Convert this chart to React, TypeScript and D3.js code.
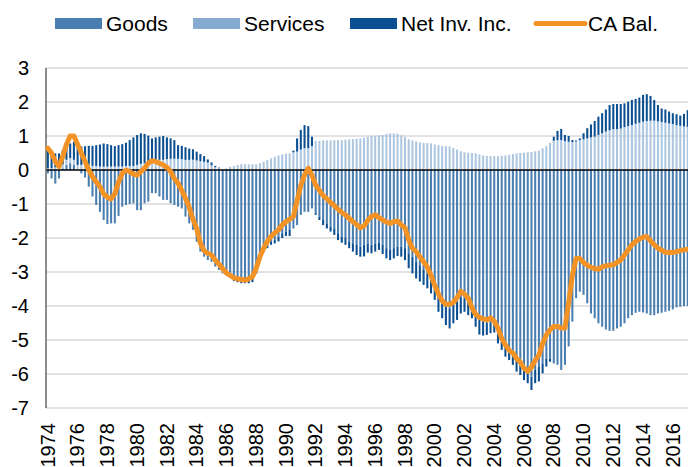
import * as d3 from "d3";
import React, { useEffect, useRef } from "react";

// quarterly values, % of GDP, 1974Q1 .. 2017Q1
const goods = [
  -0.1, -0.25, -0.4, -0.25, 0.05, 0.15, 0.2, 0.15, 0.0, -0.1, -0.22, -0.49,
  -0.78, -1.03, -1.23, -1.47, -1.59, -1.57, -1.57, -1.35, -1.08, -1.03, -1.0, -0.98,
  -1.18, -1.18, -0.98, -0.93, -0.68, -0.68, -0.78, -0.88, -0.88, -0.98, -1.03, -1.08,
  -1.13, -1.37, -1.57, -1.76, -2.11, -2.4, -2.55, -2.65, -2.7, -2.84, -2.94, -3.04,
  -3.09, -3.14, -3.24, -3.25, -3.23, -3.23, -3.23, -3.2, -2.95, -2.5, -2.35, -2.2,
  -2.1, -2.06, -1.96, -1.86, -1.81, -1.76, -1.72, -1.62, -1.32, -1.23, -1.23, -1.13,
  -1.27, -1.37, -1.47, -1.57, -1.67, -1.72, -1.86, -1.96, -2.0, -2.1, -2.16, -2.2,
  -2.25, -2.2, -2.16, -2.2, -2.16, -2.14, -2.2, -2.3, -2.35, -2.3, -2.25, -2.25,
  -2.3, -2.45, -2.55, -2.7, -2.8, -2.92, -3.04, -3.19, -3.33, -3.63, -3.82, -3.97,
  -4.07, -3.97, -3.87, -3.73, -3.77, -3.87, -3.97, -4.22, -4.35, -4.45, -4.5, -4.48,
  -4.5, -4.75, -5.0, -5.19, -5.34, -5.44, -5.59, -5.69, -5.78, -5.93, -6.08, -5.88,
  -5.78, -5.69, -5.54, -5.54, -5.69, -5.73, -5.88, -5.73, -5.19, -4.46, -3.77, -3.58,
  -3.67, -3.92, -4.22, -4.36, -4.51, -4.61, -4.69, -4.73, -4.73, -4.66, -4.61, -4.51,
  -4.36, -4.27, -4.2, -4.17, -4.19, -4.22, -4.27, -4.27, -4.22, -4.2, -4.17, -4.14,
  -4.1, -4.04, -4.02, -4.0, -4.0,
];

const services = [
  0.05, 0.05, 0.08, 0.1, 0.12, 0.15, 0.15, 0.15, 0.15, 0.15, 0.15, 0.15,
  0.12, 0.12, 0.1, 0.1, 0.1, 0.1, 0.1, 0.1, 0.1, 0.12, 0.12, 0.12,
  0.15, 0.18, 0.2, 0.22, 0.25, 0.28, 0.3, 0.3, 0.32, 0.33, 0.33, 0.33,
  0.32, 0.3, 0.3, 0.3, 0.28, 0.26, 0.24, 0.22, 0.14, 0.08, 0.05, 0.02,
  0.05, 0.1, 0.12, 0.15, 0.17, 0.17, 0.17, 0.17, 0.17, 0.2, 0.24, 0.29,
  0.34, 0.39, 0.43, 0.46, 0.48, 0.49, 0.52, 0.54, 0.6, 0.64, 0.64, 0.7,
  0.86, 0.86, 0.87, 0.87, 0.87, 0.88, 0.88, 0.88, 0.89, 0.9, 0.91, 0.92,
  0.93, 0.95, 0.98, 1.0, 1.01, 1.02, 1.03, 1.06, 1.08, 1.08, 1.07, 1.02,
  0.97, 0.91, 0.87, 0.84, 0.81, 0.8, 0.79, 0.78, 0.75, 0.73, 0.71, 0.7,
  0.69, 0.65, 0.6, 0.55, 0.52, 0.51, 0.5, 0.49, 0.46, 0.43, 0.41, 0.41,
  0.41, 0.41, 0.42, 0.43, 0.45, 0.47, 0.49, 0.5, 0.51, 0.52, 0.53, 0.55,
  0.57, 0.64, 0.7, 0.8, 0.86, 0.88, 0.88, 0.85, 0.83, 0.82, 0.84, 0.88,
  0.9, 0.93, 0.96, 0.98, 1.03, 1.08, 1.13, 1.17, 1.2, 1.2, 1.22, 1.26,
  1.29, 1.32, 1.36, 1.39, 1.42, 1.44, 1.45, 1.45, 1.43, 1.41, 1.39, 1.37,
  1.35, 1.32, 1.3, 1.28, 1.27,
];

const netInvInc = [
  0.59, 0.49, 0.41, 0.39, 0.42, 0.37, 0.43, 0.53, 0.55, 0.54, 0.55, 0.56,
  0.59, 0.61, 0.65, 0.68, 0.66, 0.63, 0.6, 0.63, 0.66, 0.68, 0.76, 0.84,
  0.88, 0.9, 0.86, 0.79, 0.68, 0.68, 0.68, 0.7, 0.64, 0.6, 0.55, 0.4,
  0.39, 0.37, 0.33, 0.31, 0.26, 0.21, 0.17, 0.09, 0.08, 0.04, 0.02, 0.0,
  0.0, 0.0, -0.03, -0.05, -0.1, -0.1, -0.1, -0.1, -0.1, -0.08, -0.05, -0.1,
  -0.1, -0.1, -0.14, -0.14, -0.13, -0.18, 0.05, 0.39, 0.58, 0.68, 0.65, 0.28,
  -0.05, -0.1, -0.15, -0.15, -0.14, -0.19, -0.2, -0.18, -0.2, -0.2, -0.24, -0.3,
  -0.3, -0.34, -0.27, -0.25, -0.24, -0.21, -0.27, -0.3, -0.3, -0.3, -0.28, -0.3,
  -0.35, -0.44, -0.49, -0.49, -0.48, -0.46, -0.44, -0.44, -0.49, -0.54, -0.54, -0.59,
  -0.59, -0.54, -0.54, -0.49, -0.4, -0.4, -0.39, -0.39, -0.49, -0.42, -0.35, -0.32,
  -0.28, -0.35, -0.29, -0.3, -0.25, -0.29, -0.34, -0.34, -0.4, -0.34, -0.39, -0.39,
  -0.44, -0.29, -0.24, -0.1, 0.12, 0.27, 0.33, 0.18, 0.17, 0.06, 0.03, 0.05,
  0.18, 0.3, 0.38, 0.46, 0.54, 0.59, 0.65, 0.74, 0.74, 0.74, 0.72, 0.7,
  0.72, 0.74, 0.73, 0.74, 0.79, 0.79, 0.73, 0.61, 0.48, 0.4, 0.39, 0.35,
  0.32, 0.32, 0.3, 0.37, 0.49,
];

const caBal = [
  0.64, 0.5, 0.25, 0.1, 0.4, 0.75, 1.0, 1.0, 0.75, 0.5, 0.25, 0.0,
  -0.2, -0.35, -0.49, -0.7, -0.8, -0.85, -0.7, -0.35, -0.1, 0.0, -0.05, -0.12,
  -0.15, -0.05, 0.06, 0.2, 0.27, 0.25, 0.2, 0.15, 0.08, -0.05, -0.25, -0.39,
  -0.6, -0.83, -1.1, -1.45, -1.72, -2.15, -2.38, -2.45, -2.5, -2.65, -2.77, -2.9,
  -3.03, -3.1, -3.17, -3.2, -3.22, -3.24, -3.2, -3.14, -2.9, -2.55, -2.3, -2.1,
  -1.95, -1.85, -1.76, -1.62, -1.52, -1.45, -1.37, -0.9, -0.45, -0.15, 0.05, -0.15,
  -0.45, -0.6, -0.75, -0.85, -0.95, -1.05, -1.15, -1.25, -1.32, -1.42, -1.52, -1.6,
  -1.7, -1.65, -1.48, -1.37, -1.32, -1.4, -1.47, -1.53, -1.57, -1.52, -1.5, -1.62,
  -1.7, -2.05, -2.3, -2.4, -2.55, -2.7, -2.85, -3.1, -3.4, -3.65, -3.85, -3.95,
  -3.95, -3.9, -3.75, -3.57, -3.65, -3.77, -4.05, -4.25, -4.33, -4.38, -4.41, -4.35,
  -4.45, -4.65, -4.95, -5.15, -5.3, -5.38, -5.55, -5.65, -5.83, -5.92, -5.8, -5.6,
  -5.45, -5.1, -4.85, -4.7, -4.6, -4.6, -4.65, -4.65, -3.9, -3.1, -2.6, -2.6,
  -2.72, -2.8, -2.86, -2.9, -2.92, -2.85, -2.82, -2.8, -2.79, -2.72, -2.65, -2.5,
  -2.35, -2.2, -2.1, -2.03, -1.98, -1.96, -2.08, -2.2, -2.3, -2.36, -2.42, -2.43,
  -2.43, -2.4, -2.37, -2.35, -2.33,
];

const yearLabels = [
  "1974", "1976", "1978", "1980", "1982", "1984", "1986", "1988", "1990", "1992", "1994",
  "1996", "1998", "2000", "2002", "2004", "2006", "2008", "2010", "2012", "2014", "2016",
];
const yTicks = [3, 2, 1, 0, -1, -2, -3, -4, -5, -6, -7];
const seriesNames = ["Goods", "Services", "Net Inv. Inc.", "CA Bal."];

const quarters = goods.map((_, i) => `${1974 + Math.floor(i / 4)}Q${(i % 4) + 1}`);

const colors = {
  goods: "#4a7eb0",
  services: "#adc7e1",
  servicesKey: "#86aad0",
  income: "#0b4f91",
  ca: "#f39325",
};

const font = "'Liberation Sans', Arial, sans-serif";

const App = () => {
  const ref = useRef(null);

  useEffect(() => {
    drawChart();
  }, []);

  const drawChart = () => {
    const width = 688;
    const height = 467;
    const left = 46;
    const step = 3.72;

    d3.select(ref.current).selectAll("*").remove();

    const svg = d3
      .select(ref.current)
      .append("svg")
      .attr("width", width)
      .attr("height", height)
      .style("position", "absolute")
      .style("left", 0)
      .style("top", 0)
      .style("background", "#fff")
      .style("font-family", font);

    const x = d3
      .scaleBand()
      .domain(quarters)
      .range([left, left + step * quarters.length])
      .paddingInner(0.45)
      .paddingOuter(0.225);

    const y = d3.scaleLinear().domain([-7, 3]).range([408, 68]);

    // gridlines
    svg
      .selectAll("line.grid")
      .data(yTicks.filter((t) => t !== 0))
      .enter()
      .append("line")
      .attr("x1", left)
      .attr("x2", width)
      .attr("y1", (d) => y(d))
      .attr("y2", (d) => y(d))
      .attr("stroke", "#d9d9d9")
      .attr("stroke-width", 1.5);

    // stacked bars
    const rows = quarters.map((q, i) => ({
      q,
      goods: goods[i],
      services: services[i],
      income: netInvInc[i],
    }));
    const stack = d3
      .stack()
      .keys(["goods", "services", "income"])
      .offset(d3.stackOffsetDiverging);
    const layers = stack(rows);
    const fills = [colors.goods, colors.services, colors.income];

    svg
      .selectAll("g.layer")
      .data(layers)
      .enter()
      .append("g")
      .attr("fill", (_, i) => fills[i])
      .selectAll("rect")
      .data((d) => d)
      .enter()
      .append("rect")
      .attr("x", (d) => x(d.data.q))
      .attr("width", x.bandwidth())
      .attr("y", (d) => y(Math.max(d[0], d[1])))
      .attr("height", (d) => Math.abs(y(d[0]) - y(d[1])));

    // zero line
    svg
      .append("line")
      .attr("x1", left)
      .attr("x2", width)
      .attr("y1", y(0))
      .attr("y2", y(0))
      .attr("stroke", "#000")
      .attr("stroke-width", 1.5);

    // left axis line
    svg
      .append("line")
      .attr("x1", left)
      .attr("x2", left)
      .attr("y1", y(3))
      .attr("y2", y(-7))
      .attr("stroke", "#666")
      .attr("stroke-width", 1.5);

    // CA balance line
    const line = d3
      .line()
      .x((_, i) => x(quarters[i]) + x.bandwidth() / 2)
      .y((d) => y(d));

    svg
      .append("path")
      .datum(caBal)
      .attr("d", line)
      .attr("fill", "none")
      .attr("stroke", colors.ca)
      .attr("stroke-width", 5)
      .attr("stroke-linejoin", "round")
      .attr("stroke-linecap", "round");

    // y tick labels
    svg
      .selectAll("text.ytick")
      .data(yTicks)
      .enter()
      .append("text")
      .attr("x", 29)
      .attr("y", (d) => y(d))
      .attr("dy", "0.36em")
      .attr("text-anchor", "end")
      .attr("font-size", 20)
      .attr("fill", "#000")
      .text((d) => d);

    // x tick labels (rotated)
    svg
      .selectAll("text.xtick")
      .data(yearLabels)
      .enter()
      .append("text")
      .attr("transform", (d) => {
        const cx = x(`${d}Q1`) + x.bandwidth() / 2 - 0.5;
        return `translate(${cx},423) rotate(-90)`;
      })
      .attr("dy", "0.36em")
      .attr("text-anchor", "end")
      .attr("font-size", 20)
      .attr("fill", "#000")
      .text((d) => d);

    // legend
    const legendX = [55, 193, 350, 536];
    const legendFill = [colors.goods, colors.servicesKey, colors.income];
    seriesNames.forEach((name, i) => {
      if (i < 3) {
        svg
          .append("rect")
          .attr("x", legendX[i])
          .attr("y", 18)
          .attr("width", 47)
          .attr("height", 11)
          .attr("fill", legendFill[i]);
      } else {
        svg
          .append("line")
          .attr("x1", legendX[i])
          .attr("x2", legendX[i] + 49)
          .attr("y1", 23.5)
          .attr("y2", 23.5)
          .attr("stroke", colors.ca)
          .attr("stroke-width", 5)
          .attr("stroke-linecap", "round");
      }
      svg
        .append("text")
        .attr("x", legendX[i] + (i < 3 ? 51 : 52))
        .attr("y", 30.5)
        .attr("font-size", 21)
        .attr("fill", "#000")
        .text(name);
    });
  };

  return <div ref={ref} />;
};

export default App;
